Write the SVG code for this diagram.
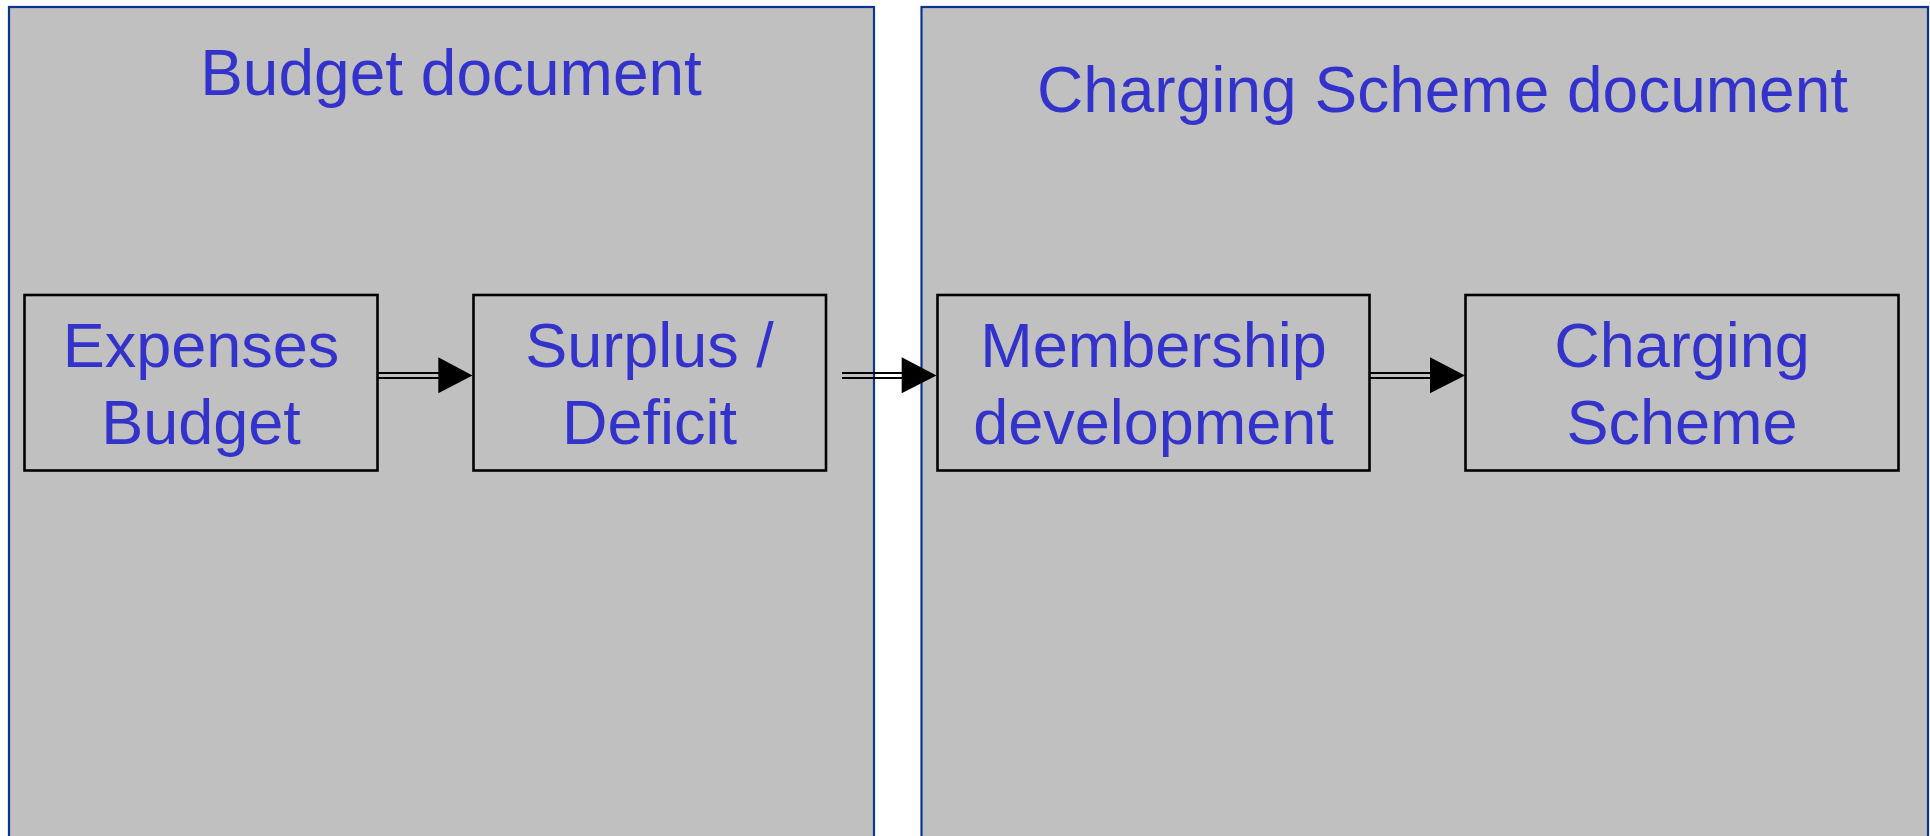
<svg xmlns="http://www.w3.org/2000/svg" width="1930" height="836" viewBox="0 0 1930 836">
<style>
.panel{fill:#C0C0C0;stroke:#0A3592;stroke-width:2.2}
.box{fill:#C0C0C0;stroke:#000;stroke-width:2.6}
.t{font-family:"Liberation Sans",Arial,sans-serif;fill:#3333CC;text-anchor:middle}
.title{font-size:64px}
.lbl{font-size:63px}
.line{stroke:#000;stroke-width:2;fill:none}
.head{fill:#000}
</style>
<rect width="1930" height="836" fill="#FFFFFF"/>
<g id="panel-budget">
<rect class="panel" x="9" y="7" width="865" height="840"/>
<text class="t title" x="451" y="95">Budget document</text>
</g>
<g id="panel-charging">
<rect class="panel" x="921.5" y="7" width="1006.5" height="840"/>
<text class="t title" x="1442.5" y="112">Charging Scheme document</text>
</g>
<g id="node-expenses">
<rect class="box" x="24.5" y="295" width="353" height="175.5"/>
<text class="t lbl" x="201" y="367">Expenses</text>
<text class="t lbl" x="201" y="444">Budget</text>
</g>
<g id="node-surplus">
<rect class="box" x="473.5" y="295" width="352.5" height="175.5"/>
<text class="t lbl" x="649.5" y="367">Surplus /</text>
<text class="t lbl" x="649.5" y="444">Deficit</text>
</g>
<g id="node-membership">
<rect class="box" x="937.5" y="295" width="432" height="175.5"/>
<text class="t lbl" x="1153.5" y="367">Membership</text>
<text class="t lbl" x="1153.5" y="444">development</text>
</g>
<g id="node-charging">
<rect class="box" x="1465.5" y="295" width="433" height="175.5"/>
<text class="t lbl" x="1682" y="367">Charging</text>
<text class="t lbl" x="1682" y="444">Scheme</text>
</g>
<g id="connectors">
<path class="line" d="M378 373H440M378 378H440"/>
<polygon class="head" points="438.3,357.3 472.5,375.5 438.3,393.3"/>
<path class="line" d="M842 373H903M842 378H903"/>
<polygon class="head" points="901.7,357.3 936.5,375.5 901.7,393.3"/>
<path class="line" d="M1369.5 373H1432M1369.5 378H1432"/>
<polygon class="head" points="1430,357.3 1465,375.5 1430,393.3"/>
</g>
</svg>
